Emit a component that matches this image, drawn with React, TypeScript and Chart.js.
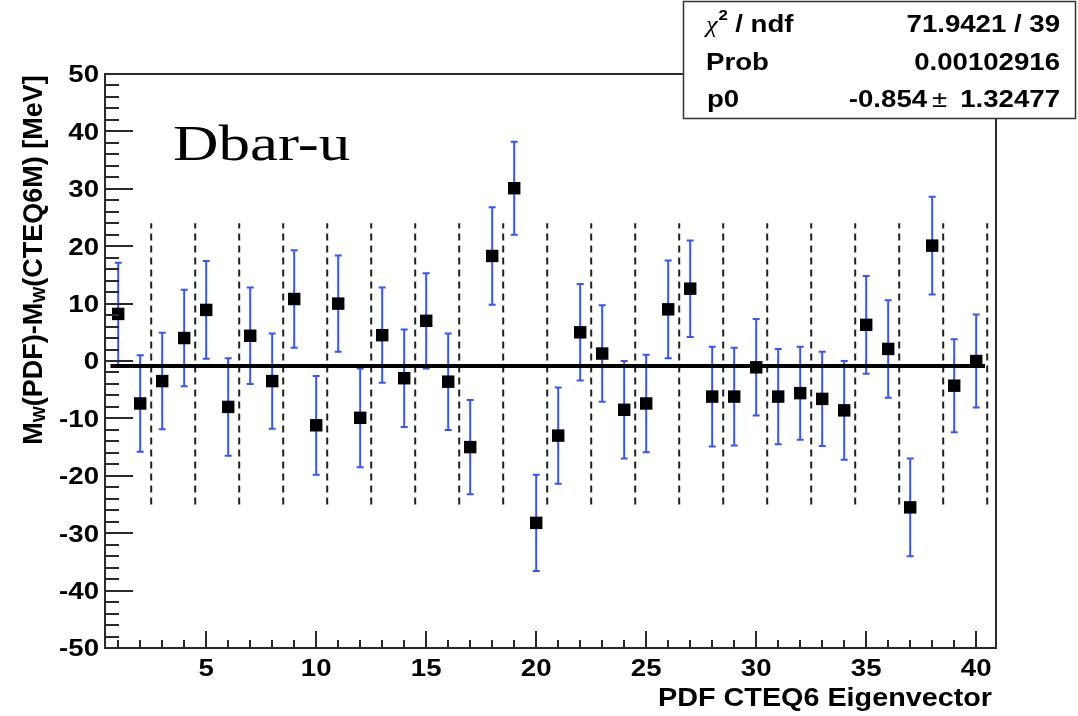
import React, { useEffect, useRef } from 'react';
import { Chart, registerables } from 'chart.js';

Chart.register(...registerables);

// ---- data ----
const eigenvectors = [1, 2, 3, 4, 5, 6, 7, 8, 9, 10, 11, 12, 13, 14, 15, 16, 17, 18, 19, 20,
  21, 22, 23, 24, 25, 26, 27, 28, 29, 30, 31, 32, 33, 34, 35, 36, 37, 38, 39, 40];
const deltaMw = [8.2, -7.4, -3.5, 4.0, 8.9, -8.0, 4.4, -3.5, 10.8, -11.2,
  10.0, -9.9, 4.5, -3.0, 7.0, -3.6, -15.0, 18.3, 30.1, -28.2,
  -13.0, 5.0, 1.3, -8.5, -7.4, 9.0, 12.6, -6.2, -6.2, -1.1,
  -6.2, -5.6, -6.6, -8.6, 6.3, 2.1, -25.5, 20.1, -4.3, 0.0];
const deltaErr = [8.9, 8.4, 8.4, 8.4, 8.5, 8.5, 8.4, 8.3, 8.5, 8.6,
  8.4, 8.6, 8.3, 8.5, 8.3, 8.4, 8.2, 8.5, 8.1, 8.4,
  8.4, 8.4, 8.4, 8.5, 8.5, 8.5, 8.4, 8.7, 8.5, 8.4,
  8.3, 8.1, 8.2, 8.6, 8.5, 8.5, 8.5, 8.5, 8.1, 8.1];
const fitP0 = -0.854;
const fitRange = [0.65, 40.4];
const pairEdges = [2.5, 4.5, 6.5, 8.5, 10.5, 12.5, 14.5, 16.5, 18.5, 20.5,
  22.5, 24.5, 26.5, 28.5, 30.5, 32.5, 34.5, 36.5, 38.5, 40.5];
const edgeSpan = [-25, 24];
const xTickValues = [5, 10, 15, 20, 25, 30, 35, 40];
const yTickValues = [-50, -40, -30, -20, -10, 0, 10, 20, 30, 40, 50];
const xRange = [0.4, 40.9];
const yRange = [-50, 50];
const statsRows = [
  ['chi2 / ndf', '71.9421 / 39'],
  ['Prob', '0.00102916'],
  ['p0', '-0.854', '1.32477'],
];
const plotLabel = 'Dbar-u';
const xTitle = 'PDF CTEQ6 Eigenvector';

const SANS = '"Liberation Sans", Arial, Helvetica, sans-serif';
const SERIF = '"Liberation Serif", "Times New Roman", serif';

function drawStretched(ctx: CanvasRenderingContext2D, text: string, x: number, y: number,
  font: string, align: 'left' | 'right' | 'center', sx: number) {
  ctx.save();
  ctx.font = font;
  ctx.textBaseline = 'alphabetic';
  ctx.textAlign = 'left';
  const w = ctx.measureText(text).width * sx;
  const x0 = align === 'right' ? x - w : align === 'center' ? x - w / 2 : x;
  ctx.translate(x0, y);
  ctx.scale(sx, 1);
  ctx.fillText(text, 0, 0);
  ctx.restore();
  return w;
}

const rootPlugin = {
  id: 'rootDecor',
  beforeDatasetsDraw(chart: any) {
    const ctx = chart.ctx as CanvasRenderingContext2D;
    const xs = chart.scales.x;
    const ys = chart.scales.y;
    ctx.save();
    ctx.strokeStyle = '#3355ff';
    ctx.lineWidth = 2;
    eigenvectors.forEach((ev, i) => {
      const px = xs.getPixelForValue(ev);
      const yTop = ys.getPixelForValue(deltaMw[i] + deltaErr[i]);
      const yBot = ys.getPixelForValue(deltaMw[i] - deltaErr[i]);
      ctx.beginPath();
      ctx.moveTo(px, yTop);
      ctx.lineTo(px, yBot);
      ctx.moveTo(px - 3.5, yTop);
      ctx.lineTo(px + 3.5, yTop);
      ctx.moveTo(px - 3.5, yBot);
      ctx.lineTo(px + 3.5, yBot);
      ctx.stroke();
    });
    ctx.restore();
  },
  afterDraw(chart: any) {
    const ctx = chart.ctx as CanvasRenderingContext2D;
    const xs = chart.scales.x;
    const ys = chart.scales.y;
    const { left, right, top, bottom } = chart.chartArea;
    ctx.save();
    ctx.strokeStyle = '#2a2a2a';
    ctx.fillStyle = '#000';
    ctx.lineWidth = 2;
    // frame
    ctx.strokeRect(left, top, right - left, bottom - top);
    // y ticks
    ctx.beginPath();
    for (let v = yRange[0]; v <= yRange[1]; v += 2) {
      const py = Math.round(ys.getPixelForValue(v));
      const len = v % 10 === 0 ? 28 : 14;
      ctx.moveTo(left, py);
      ctx.lineTo(left + len, py);
    }
    // x ticks
    for (let v = 1; v <= 40; v += 1) {
      const px = Math.round(xs.getPixelForValue(v));
      const len = v % 5 === 0 ? 17 : 8;
      ctx.moveTo(px, bottom);
      ctx.lineTo(px, bottom - len);
    }
    ctx.stroke();

    // tick labels from the library's ticks
    const tickFont = `bold 23px ${SANS}`;
    ys.ticks.forEach((t: any) => {
      const py = ys.getPixelForValue(t.value);
      drawStretched(ctx, String(t.value), left - 6, py + 8.3, tickFont, 'right', 1.2);
    });
    xs.ticks.forEach((t: any) => {
      const px = xs.getPixelForValue(t.value);
      drawStretched(ctx, String(t.value), px, bottom + 27.5, tickFont, 'center', 1.2);
    });

    // x title
    drawStretched(ctx, xTitle, right - 4, bottom + 58, `bold 25px ${SANS}`, 'right', 1.15);

    // y title (rotated, with subscripts)
    ctx.save();
    ctx.translate(42, 260);
    ctx.rotate(-Math.PI / 2);
    ctx.textBaseline = 'alphabetic';
    ctx.textAlign = 'left';
    const big = `bold 27px ${SANS}`;
    const small = `bold 17px ${SANS}`;
    const pieces = [
      { t: 'M', f: big, dy: 0 },
      { t: 'W', f: small, dy: 3 },
      { t: '(PDF)-M', f: big, dy: 0 },
      { t: 'W', f: small, dy: 3 },
      { t: '(CTEQ6M) [MeV]', f: big, dy: 0 },
    ];
    let total = 0;
    pieces.forEach((p) => { ctx.font = p.f; total += ctx.measureText(p.t).width; });
    let cx = -total / 2;
    pieces.forEach((p) => {
      ctx.font = p.f;
      ctx.fillText(p.t, cx, p.dy);
      cx += ctx.measureText(p.t).width;
    });
    ctx.restore();

    // plot label
    drawStretched(ctx, plotLabel, 173, 160, `50px ${SERIF}`, 'left', 1.26);

    // stats box
    ctx.fillStyle = '#fff';
    ctx.fillRect(683, 1, 393, 117);
    ctx.strokeStyle = '#333';
    ctx.lineWidth = 1.5;
    ctx.strokeRect(683.5, 1.5, 392, 117);
    ctx.fillStyle = '#000';
    const sf = `bold 23px ${SANS}`;
    const rowBase = [31.5, 70, 106.5];
    // row 1: chi^2 / ndf
    let lx = 706;
    lx += drawStretched(ctx, '\u03c7', lx, rowBase[0], `italic 24px ${SERIF}`, 'left', 1.1);
    drawStretched(ctx, '2', lx + 1, rowBase[0] - 12, `bold 14px ${SANS}`, 'left', 1.2);
    drawStretched(ctx, ' / ndf', lx + 10, rowBase[0], sf, 'left', 1.2);
    drawStretched(ctx, statsRows[0][1], 1060, rowBase[0], sf, 'right', 1.2);
    // row 2
    drawStretched(ctx, statsRows[1][0], 706, rowBase[1], sf, 'left', 1.2);
    drawStretched(ctx, statsRows[1][1], 1060, rowBase[1], sf, 'right', 1.2);
    // row 3
    drawStretched(ctx, statsRows[2][0], 707, rowBase[2], sf, 'left', 1.2);
    const w3 = drawStretched(ctx, statsRows[2][2], 1060, rowBase[2], sf, 'right', 1.2);
    const wpm = drawStretched(ctx, '\u00b1', 1060 - w3 - 13, rowBase[2], `23px ${SANS}`, 'right', 1.2);
    drawStretched(ctx, statsRows[2][1], 1060 - w3 - 13 - wpm - 5, rowBase[2], sf, 'right', 1.2);
    ctx.restore();
  },
};

export default function App() {
  const ref = useRef<HTMLCanvasElement>(null);
  useEffect(() => {
    document.body.style.margin = '0';
    const canvas = ref.current!;
    const points = eigenvectors.map((ev, i) => ({ x: ev, y: deltaMw[i] }));
    const dashed: any[] = [];
    pairEdges.forEach((b) => {
      dashed.push({ x: b, y: edgeSpan[0] }, { x: b, y: edgeSpan[1] }, { x: b, y: null });
    });
    const fitLine = [{ x: fitRange[0], y: fitP0 }, { x: fitRange[1], y: fitP0 }];
    const chart = new Chart(canvas, {
      type: 'scatter',
      data: {
        datasets: [
          {
            type: 'line', data: fitLine, borderColor: '#000', borderWidth: 4,
            pointRadius: 0, fill: false, tension: 0, order: 0,
          } as any,
          {
            type: 'scatter', data: points, pointStyle: 'rect', pointRadius: 8.8,
            backgroundColor: '#000', borderColor: '#000', borderWidth: 0, order: 1,
          } as any,
          {
            type: 'line', data: dashed, borderColor: '#222', borderWidth: 2,
            borderDash: [7, 5], pointRadius: 0, spanGaps: false, fill: false,
            tension: 0, order: 2,
          } as any,
        ],
      },
      options: {
        animation: false,
        responsive: false,
        devicePixelRatio: 1,
        events: [],
        layout: { padding: { left: 105, top: 74, right: 82, bottom: 68 } },
        plugins: { legend: { display: false }, tooltip: { enabled: false } },
        scales: {
          x: {
            type: 'linear', min: xRange[0], max: xRange[1],
            grid: { display: false, drawTicks: false },
            border: { display: false },
            ticks: { display: false },
            afterBuildTicks: (s: any) => { s.ticks = xTickValues.map((v) => ({ value: v })); },
          },
          y: {
            type: 'linear', min: yRange[0], max: yRange[1],
            grid: { display: false, drawTicks: false },
            border: { display: false },
            ticks: { display: false },
            afterBuildTicks: (s: any) => { s.ticks = yTickValues.map((v) => ({ value: v })); },
          },
        },
      } as any,
      plugins: [rootPlugin],
    });
    return () => chart.destroy();
  }, []);
  return (
    <div style={{ width: 1078, height: 716, background: '#fff' }}>
      <canvas ref={ref} width={1078} height={716} style={{ display: 'block' }} />
    </div>
  );
}
